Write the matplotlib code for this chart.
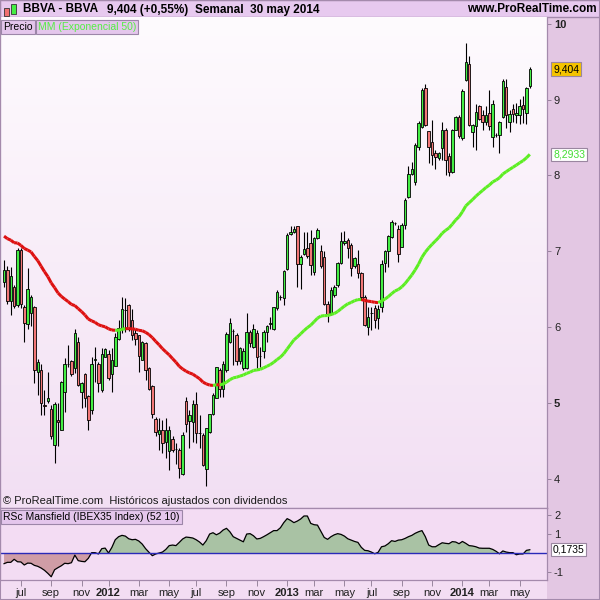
import numpy as np
import pandas as pd
import matplotlib
matplotlib.use("Agg")
import matplotlib.pyplot as plt
from matplotlib.collections import LineCollection
from matplotlib.colors import LinearSegmentedColormap
from matplotlib.patches import Rectangle
from matplotlib.transforms import blended_transform_factory

plt.rcParams['font.family'] = ['Liberation Sans', 'DejaVu Sans']

# semaine (lundi) de la premiere bougie, 157 bougies hebdo
first_week = "2011-05-30"

opens = [6.60, 6.76, 6.35, 6.53, 6.29, 7.02, 6.26, 6.04, 6.18, 6.26,
         5.41, 5.44, 4.97, 5.02, 4.92, 4.45, 4.78, 4.65, 5.14, 5.51,
         5.56, 5.46, 5.81, 5.15, 5.38, 5.09, 4.91, 5.57, 5.52, 5.17,
         5.60, 5.65, 5.38, 5.49, 5.85, 5.97, 6.22, 6.29, 6.10, 5.92,
         5.89, 5.57, 5.79, 5.46, 5.22, 4.79, 4.59, 4.65, 4.48, 4.37,
         4.53, 4.39, 4.38, 4.06, 5.03, 4.76, 4.75, 4.98, 4.61, 4.58,
         4.13, 4.62, 4.85, 5.07, 5.44, 5.18, 5.44, 5.81, 5.95, 5.89,
         5.55, 5.46, 5.46, 5.94, 5.74, 5.92, 5.62, 5.68, 5.94, 6.04,
         5.98, 6.25, 6.40, 6.39, 6.77, 7.23, 7.25, 7.33, 6.83, 6.96,
         7.04, 7.11, 6.73, 7.17, 7.00, 6.93, 6.31, 6.17, 6.43, 6.56,
         6.84, 7.11, 7.15, 7.08, 6.80, 6.83, 6.71, 6.40, 6.00, 6.18,
         6.25, 6.12, 6.27, 6.84, 7.01, 7.19, 7.37, 7.30, 7.06, 7.35,
         7.72, 8.02, 7.91, 8.37, 8.64, 9.15, 8.59, 8.44, 8.29, 8.23,
         8.36, 8.60, 8.26, 8.05, 8.60, 8.77, 8.49, 9.26, 9.47, 8.57,
         8.65, 8.91, 8.80, 8.71, 8.82, 8.51, 8.53, 8.54, 8.77, 9.17,
         8.70, 8.88, 8.80, 8.80, 8.93, 8.83, 9.18]
highs = [6.89, 6.80, 6.79, 6.56, 7.04, 7.04, 6.29, 6.78, 6.42, 6.28,
         5.58, 5.52, 5.17, 5.41, 4.97, 5.01, 5.00, 5.29, 5.59, 5.76,
         5.57, 5.98, 5.87, 5.28, 5.39, 5.10, 5.61, 5.74, 5.54, 5.72,
         5.72, 5.70, 5.72, 5.92, 6.09, 6.40, 6.39, 6.31, 6.24, 5.97,
         5.90, 5.82, 5.81, 5.48, 5.24, 4.82, 4.80, 4.78, 4.80, 4.69,
         4.56, 4.47, 4.40, 4.62, 5.08, 4.91, 5.04, 5.15, 4.84, 4.60,
         4.67, 4.86, 5.13, 5.48, 5.46, 5.55, 5.94, 6.12, 5.98, 5.92,
         5.74, 5.72, 6.18, 5.96, 6.04, 5.96, 5.74, 5.96, 6.03, 6.14,
         6.27, 6.49, 6.42, 6.75, 7.24, 7.33, 7.33, 7.34, 6.95, 7.26,
         7.26, 7.28, 7.19, 7.31, 7.08, 7.00, 6.34, 6.53, 6.56, 6.86,
         7.26, 7.27, 7.17, 7.11, 6.93, 7.02, 6.73, 6.42, 6.27, 6.27,
         6.29, 6.29, 6.89, 7.02, 7.21, 7.41, 7.39, 7.35, 7.37, 7.70,
         8.12, 8.18, 8.43, 8.72, 9.15, 9.20, 8.59, 8.73, 8.34, 8.31,
         8.71, 8.62, 8.29, 8.61, 8.79, 8.80, 9.14, 9.75, 9.58, 8.68,
         8.94, 8.93, 8.87, 8.91, 9.13, 9.00, 8.56, 8.72, 9.27, 9.27,
         8.86, 8.94, 8.95, 9.01, 9.05, 9.17, 9.43]
lows = [6.53, 6.31, 6.16, 6.25, 6.27, 6.25, 5.80, 5.98, 6.01, 5.26,
        5.10, 4.84, 4.84, 5.00, 4.53, 4.21, 4.43, 4.64, 4.88, 5.48,
        5.36, 5.39, 5.22, 4.94, 4.95, 4.64, 4.86, 5.28, 5.15, 5.15,
        5.60, 5.30, 5.14, 5.49, 5.83, 5.92, 5.94, 5.95, 5.83, 5.76,
        5.41, 5.57, 5.30, 5.17, 4.80, 4.56, 4.38, 4.34, 4.28, 4.12,
        4.35, 4.20, 4.01, 4.05, 4.62, 4.40, 4.49, 4.47, 4.40, 4.17,
        3.90, 4.60, 4.84, 5.06, 5.08, 5.08, 5.41, 5.79, 5.50, 5.50,
        5.52, 5.44, 5.45, 5.74, 5.73, 5.46, 5.48, 5.59, 5.81, 5.98,
        5.96, 6.23, 6.36, 6.29, 6.75, 7.22, 7.24, 6.53, 6.50, 6.95,
        6.91, 6.69, 6.69, 7.16, 6.78, 6.29, 6.07, 6.16, 6.40, 6.53,
        6.83, 7.08, 6.91, 6.67, 6.78, 6.65, 6.36, 6.01, 5.89, 5.96,
        5.99, 5.98, 6.20, 6.73, 6.79, 7.18, 7.35, 6.86, 7.06, 7.29,
        7.70, 8.01, 7.88, 8.34, 8.62, 8.65, 8.16, 8.14, 8.08, 8.21,
        8.21, 8.01, 7.99, 8.03, 8.60, 8.49, 8.47, 9.25, 8.65, 8.37,
        8.33, 8.73, 8.60, 8.67, 8.60, 8.38, 8.51, 8.29, 8.76, 8.62,
        8.58, 8.71, 8.69, 8.68, 8.69, 8.68, 9.15]
closes = [6.75, 6.35, 6.67, 6.28, 7.02, 6.31, 6.05, 6.50, 6.40, 5.44,
          5.54, 5.00, 4.96, 5.07, 4.56, 4.99, 4.75, 5.28, 5.51, 5.52,
          5.38, 5.92, 5.24, 5.27, 5.06, 4.78, 5.51, 5.58, 5.26, 5.64,
          5.71, 5.33, 5.57, 5.87, 5.99, 6.24, 6.22, 5.98, 5.90, 5.85,
          5.62, 5.80, 5.43, 5.18, 4.86, 4.62, 4.65, 4.47, 4.64, 4.65,
          4.38, 4.39, 4.14, 4.58, 4.72, 4.84, 4.99, 4.60, 4.60, 4.18,
          4.67, 4.85, 5.11, 5.47, 5.19, 5.51, 5.91, 6.06, 5.95, 5.55,
          5.73, 5.69, 5.94, 5.79, 5.98, 5.61, 5.62, 5.94, 6.01, 6.05,
          6.26, 6.47, 6.40, 6.74, 7.21, 7.25, 7.29, 6.83, 6.92, 7.03,
          6.94, 6.82, 7.18, 7.28, 6.81, 6.31, 6.17, 6.49, 6.53, 6.84,
          7.13, 7.14, 7.04, 6.78, 6.91, 6.71, 6.40, 6.03, 6.14, 6.18,
          6.10, 6.24, 6.83, 7.00, 7.20, 7.39, 7.37, 6.97, 7.35, 7.68,
          8.02, 8.08, 8.40, 8.69, 9.13, 8.66, 8.38, 8.27, 8.24, 8.29,
          8.60, 8.21, 8.05, 8.60, 8.77, 8.52, 9.12, 9.49, 8.67, 8.67,
          8.84, 8.74, 8.70, 8.80, 8.65, 8.94, 8.53, 8.70, 9.25, 8.80,
          8.81, 8.81, 8.83, 8.91, 8.88, 9.15, 9.404]

# valeur de la MM exponentielle 50 lue au bord gauche
ema_start = 7.2
ema_period = 50
ema_label = "8,2933"
change_label = "(+0,55%)"

# RSc Mansfield (IBEX35 Index) (52 10), une valeur par semaine
rsc = [-0.56, -0.49, -0.49, -0.33, -0.46, -0.47, -0.63, -0.53, -0.54, -0.65,
       -0.70, -0.79, -0.91, -1.07, -1.25, -0.88, -0.77, -0.67, -0.54, -0.56,
       -0.51, -0.11, -0.40, -0.44, -0.46, -0.28, 0.02, 0.02, -0.05, 0.23,
       0.26, 0.00, 0.30, 0.70, 0.86, 0.93, 0.89, 0.75, 0.70, 0.72,
       0.63, 0.47, 0.23, 0.04, -0.14, -0.05, 0.00, 0.05, 0.19, 0.39,
       0.42, 0.39, 0.56, 0.74, 0.84, 0.82, 0.79, 0.70, 0.58, 0.42,
       0.65, 1.00, 1.07, 0.96, 1.05, 1.21, 1.30, 1.12, 0.86, 0.77,
       0.68, 0.59, 1.00, 1.02, 0.91, 0.74, 0.77, 0.86, 0.96, 1.07,
       1.18, 1.18, 1.33, 1.60, 1.81, 1.72, 1.60, 1.68, 1.79, 1.95,
       1.95, 1.56, 1.49, 1.47, 1.14, 0.82, 0.72, 0.86, 0.96, 1.02,
       0.98, 0.89, 0.75, 0.68, 0.61, 0.56, 0.30, 0.14, 0.12, 0.05,
       -0.04, 0.04, 0.33, 0.37, 0.49, 0.65, 0.61, 0.68, 0.70, 0.77,
       0.86, 0.93, 1.04, 1.12, 1.18, 0.86, 0.42, 0.33, 0.33, 0.44,
       0.54, 0.51, 0.49, 0.60, 0.58, 0.49, 0.61, 0.51, 0.39, 0.37,
       0.33, 0.26, 0.25, 0.25, 0.25, 0.19, 0.09, -0.04, 0.11, 0.05,
       0.02, 0.02, -0.09, -0.05, -0.05, 0.14, 0.1735]

price_ticks = [4, 5, 6, 7, 8, 9, 10]
rsc_ticks = [-1, 1, 2]
month_ticks = [(2011, 7, "jul"), (2011, 9, "sep"), (2011, 11, "nov"),
               (2012, 1, "2012"), (2012, 3, "mar"), (2012, 5, "may"),
               (2012, 7, "jul"), (2012, 9, "sep"), (2012, 11, "nov"),
               (2013, 1, "2013"), (2013, 3, "mar"), (2013, 5, "may"),
               (2013, 7, "jul"), (2013, 9, "sep"), (2013, 11, "nov"),
               (2014, 1, "2014"), (2014, 3, "mar"), (2014, 5, "may")]

n = len(closes)
x = np.arange(n)
weeks = pd.date_range(first_week, periods=n, freq="W-MON")
o = np.array(opens)
h = np.array(highs)
l = np.array(lows)
c = np.array(closes)

# MM exponentielle
alpha = 2.0 / (ema_period + 1)
ema = [ema_start]
for v in c[1:]:
    ema.append(ema[-1] + alpha * (v - ema[-1]))
ema = np.array(ema)

W = H = 600
fig = plt.figure(figsize=(6, 6), dpi=100, facecolor="#e3c7e3")


def box(x0, y0, x1, y1):
    return [x0 / W, 1 - y1 / H, (x1 - x0) / W, (y1 - y0) / H]


# bandeau du haut et fond des dates
fig.patches.append(Rectangle((0, 1 - 17 / H), 1, 17 / H, transform=fig.transFigure,
                             fc="#e7c9ef", ec="#a48aac", lw=1, zorder=-2))
fig.patches.append(Rectangle((0, 0), 547 / W, 20 / H, transform=fig.transFigure,
                             fc="#f3ddf3", ec="none", zorder=-2))
# petite icone bougies
fig.patches.append(Rectangle((4 / W, 1 - 16 / H), 5 / W, 8 / H, transform=fig.transFigure,
                             fc="#f07070", ec="#333333", lw=0.6))
fig.patches.append(Rectangle((11 / W, 1 - 14 / H), 5 / W, 10 / H, transform=fig.transFigure,
                             fc="#44ee44", ec="#333333", lw=0.6))

xlim = (-1.2, 161.1)
ylim = (3.615, 10.09)

ax = fig.add_axes(box(0, 17, 547, 508))
grad = np.linspace(0, 1, 256).reshape(-1, 1)
cmap = LinearSegmentedColormap.from_list("bg", ["#fefbfe", "#f2dff3"])
ax.imshow(grad, extent=(xlim[0], xlim[1], ylim[0], ylim[1]), aspect="auto",
          cmap=cmap, zorder=0)

up = c >= o
body_col = np.where(up, "#44ee44", "#f27777")
ax.vlines(x, l, h, color="black", lw=0.8, zorder=2)
ax.bar(x, np.maximum(np.abs(c - o), 0.004), bottom=np.minimum(o, c), width=0.74,
       color=body_col, edgecolor="black", linewidth=0.6, zorder=3)

seg = [[(x[i - 1], ema[i - 1]), (x[i], ema[i])] for i in range(1, n)]
seg_col = ["#5cee22" if ema[i] >= ema[i - 1] else "#dd1111" for i in range(1, n)]
ax.add_collection(LineCollection(seg, colors=seg_col, linewidths=2.2, zorder=4))

ax.set_xlim(xlim)
ax.set_ylim(ylim)
ax.yaxis.tick_right()
ax.set_yticks(price_ticks)
ax.set_yticklabels([str(t) for t in price_ticks])
for t, lab in zip(price_ticks, ax.get_yticklabels()):
    if t in (5, 10):
        lab.set_fontweight("bold")
ax.tick_params(axis="y", direction="out", length=3, width=0.6, color="#8a7890",
               labelsize=8, pad=2, labelcolor="#222222")
ax.tick_params(axis="x", bottom=False, labelbottom=False)
for s in ax.spines.values():
    s.set_color("#a48aac")
    s.set_linewidth(0.9)
ax.spines["top"].set_visible(False)

# etiquettes de valeur a droite
tr = blended_transform_factory(fig.transFigure, ax.transData)
ax.text(553 / W, c[-1], f"{c[-1]:.3f}".replace(".", ","), transform=tr, fontsize=7.5,
        ha="left", va="center",
        bbox=dict(boxstyle="square,pad=0.15", fc="#f5c400", ec="#9a86a0", lw=0.8))
ax.text(553 / W, ema[-1], ema_label, transform=tr, fontsize=7.5, color="#44dd33",
        ha="left", va="center",
        bbox=dict(boxstyle="square,pad=0.15", fc="white", ec="#9a86a0", lw=0.8))

lab_box = dict(boxstyle="square,pad=0.2", fc="#e4c6ec", ec="#9c86a8", lw=0.8)
fig.text(3 / W, 1 - 27 / H, "Precio", fontsize=7.5, va="center", ha="left", bbox=lab_box)
fig.text(38 / W, 1 - 27 / H, "MM (Exponencial 50)", fontsize=7.5, va="center", ha="left",
         color="#55ee44", bbox=lab_box)
fig.text(3 / W, 1 - 501 / H, "\u00a9 ProRealTime.com  Hist\u00f3ricos ajustados con dividendos",
         fontsize=8, va="center", ha="left", color="#1a1a1a")

# titre
hy = 1 - 9.5 / H
fig.text(23 / W, hy, "BBVA - BBVA", fontsize=8.5, fontweight="bold", va="center")
fig.text(107 / W, hy, f"{c[-1]:.3f}".replace(".", ",") + " " + change_label,
         fontsize=8.5, fontweight="bold", va="center")
fig.text(195 / W, hy, "Semanal  " + "30 may 2014", fontsize=8.5, fontweight="bold", va="center")
fig.text(597 / W, hy, "www.ProRealTime.com", fontsize=8.5, fontweight="bold",
         va="center", ha="right")

# panneau RSc Mansfield
axr = fig.add_axes(box(0, 508, 547, 580), facecolor="#f3dcf3")
r = np.array(rsc)
axr.fill_between(x, r, 0, where=r >= 0, interpolate=True, color="#a9c2a4", lw=0)
axr.fill_between(x, r, 0, where=r <= 0, interpolate=True, color="#cf9da6", lw=0)
axr.plot(x, r, color="black", lw=0.9)
axr.axhline(0, color="#2a2ab8", lw=1)
axr.set_xlim(xlim)
axr.set_ylim(-1.42, 2.37)
axr.yaxis.tick_right()
axr.set_yticks(rsc_ticks)
axr.set_yticklabels([str(t) for t in rsc_ticks])
axr.tick_params(axis="y", direction="out", length=3, width=0.6, color="#8a7890",
                labelsize=8, pad=2, labelcolor="#222222")

pos = []
labs = []
for yy, mm, lab in month_ticks:
    idx = np.where((weeks.year == yy) & (weeks.month == mm))[0][0]
    pos.append(idx)
    labs.append(lab)
axr.set_xticks(pos)
axr.set_xticklabels(labs)
for lab in axr.get_xticklabels():
    if lab.get_text().isdigit():
        lab.set_fontweight("bold")
        lab.set_fontsize(8.5)
axr.tick_params(axis="x", direction="out", length=4, width=0.6, color="#8a7890",
                labelsize=8, pad=2, labelcolor="#222222")
for s in axr.spines.values():
    s.set_color("#a48aac")
    s.set_linewidth(0.9)

axr.text(553 / W, r[-1], f"{r[-1]:.4f}".replace(".", ","),
         transform=blended_transform_factory(fig.transFigure, axr.transData),
         fontsize=7.5, ha="left", va="center",
         bbox=dict(boxstyle="square,pad=0.15", fc="white", ec="#9a86a0", lw=0.8))
fig.text(3 / W, 1 - 517 / H, "RSc Mansfield (IBEX35 Index) (52 10)", fontsize=7.5,
         va="center", ha="left", bbox=lab_box)

fig.patches.append(Rectangle((0, 0), 1, 1, transform=fig.transFigure, fc="none",
                             ec="#a48aac", lw=1.5))

fig.savefig("out.png", dpi=100, facecolor=fig.get_facecolor())
